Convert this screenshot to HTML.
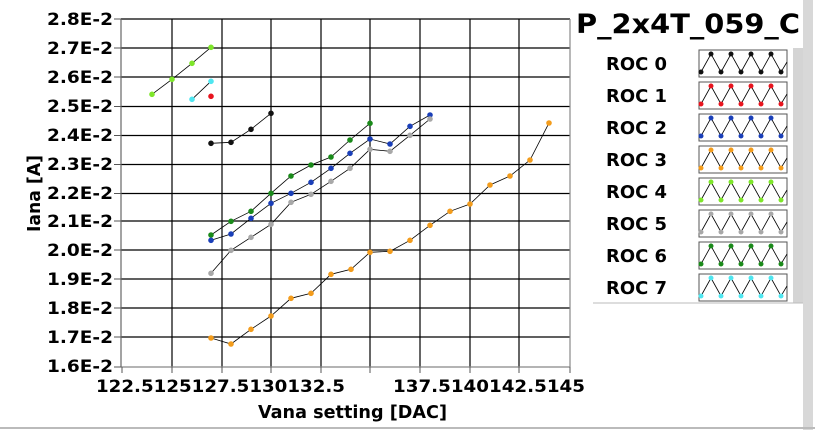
<!DOCTYPE html>
<html><head><style>
body{margin:0;background:#fff;}
svg{display:block;font-family:"DejaVu Sans","Liberation Sans",sans-serif;font-weight:bold;}
</style></head><body>
<svg width="815" height="430" viewBox="0 0 815 430" xmlns="http://www.w3.org/2000/svg">
<rect width="815" height="430" fill="#fff"/>
<g stroke="#000" stroke-width="1.2">
<line x1="121" y1="48" x2="570" y2="48"/><line x1="121" y1="77" x2="570" y2="77"/>
<line x1="121" y1="106.5" x2="570" y2="106.5"/><line x1="121" y1="135.5" x2="570" y2="135.5"/>
<line x1="121" y1="164.5" x2="570" y2="164.5"/><line x1="121" y1="193.5" x2="570" y2="193.5"/>
<line x1="121" y1="221" x2="570" y2="221"/><line x1="121" y1="250" x2="570" y2="250"/>
<line x1="121" y1="279" x2="570" y2="279"/><line x1="121" y1="308" x2="570" y2="308"/>
<line x1="121" y1="337" x2="570" y2="337"/>
<line x1="172" y1="19" x2="172" y2="367"/><line x1="222" y1="19" x2="222" y2="367"/>
<line x1="271" y1="19" x2="271" y2="367"/><line x1="321" y1="19" x2="321" y2="367"/>
<line x1="370" y1="19" x2="370" y2="367"/><line x1="420" y1="19" x2="420" y2="367"/>
<line x1="470" y1="19" x2="470" y2="367"/><line x1="519" y1="19" x2="519" y2="367"/>
<line x1="121" y1="19" x2="570" y2="19"/>
</g>
<line x1="570" y1="19" x2="570" y2="367" stroke="#888" stroke-width="1.2"/>
<line x1="121" y1="367" x2="570" y2="367" stroke="#888" stroke-width="1.2"/>
<line x1="121" y1="19" x2="121" y2="367" stroke="#666" stroke-width="1.2"/>
<g stroke="#555" stroke-width="1">
<line x1="114" y1="19" x2="121" y2="19"/><line x1="114" y1="48" x2="121" y2="48"/><line x1="114" y1="77" x2="121" y2="77"/><line x1="114" y1="106.5" x2="121" y2="106.5"/><line x1="114" y1="135.5" x2="121" y2="135.5"/><line x1="114" y1="164.5" x2="121" y2="164.5"/><line x1="114" y1="193.5" x2="121" y2="193.5"/><line x1="114" y1="221" x2="121" y2="221"/><line x1="114" y1="250" x2="121" y2="250"/><line x1="114" y1="279" x2="121" y2="279"/><line x1="114" y1="308" x2="121" y2="308"/><line x1="114" y1="337" x2="121" y2="337"/><line x1="114" y1="367" x2="121" y2="367"/>
<line x1="122" y1="367" x2="122" y2="373"/><line x1="172" y1="367" x2="172" y2="373"/><line x1="222" y1="367" x2="222" y2="373"/><line x1="271" y1="367" x2="271" y2="373"/><line x1="321" y1="367" x2="321" y2="373"/><line x1="370" y1="367" x2="370" y2="373"/><line x1="420" y1="367" x2="420" y2="373"/><line x1="470" y1="367" x2="470" y2="373"/><line x1="519" y1="367" x2="519" y2="373"/><line x1="570" y1="367" x2="570" y2="373"/>
</g>
<g font-size="17">
<text x="47" y="25" textLength="66" lengthAdjust="spacingAndGlyphs">2.8E-2</text><text x="47" y="54" textLength="66" lengthAdjust="spacingAndGlyphs">2.7E-2</text><text x="47" y="83" textLength="66" lengthAdjust="spacingAndGlyphs">2.6E-2</text><text x="47" y="112" textLength="66" lengthAdjust="spacingAndGlyphs">2.5E-2</text><text x="47" y="141" textLength="66" lengthAdjust="spacingAndGlyphs">2.4E-2</text><text x="47" y="170" textLength="66" lengthAdjust="spacingAndGlyphs">2.3E-2</text><text x="47" y="199" textLength="66" lengthAdjust="spacingAndGlyphs">2.2E-2</text><text x="47" y="227" textLength="66" lengthAdjust="spacingAndGlyphs">2.1E-2</text><text x="47" y="256" textLength="66" lengthAdjust="spacingAndGlyphs">2.0E-2</text><text x="47" y="285" textLength="66" lengthAdjust="spacingAndGlyphs">1.9E-2</text><text x="47" y="314" textLength="66" lengthAdjust="spacingAndGlyphs">1.8E-2</text><text x="47" y="343" textLength="66" lengthAdjust="spacingAndGlyphs">1.7E-2</text><text x="47" y="372" textLength="66" lengthAdjust="spacingAndGlyphs">1.6E-2</text>
</g>
<g font-size="17">
<text x="96" y="392" textLength="249" lengthAdjust="spacingAndGlyphs">122.5125127.5130132.5</text>
<text x="393" y="392" textLength="192" lengthAdjust="spacingAndGlyphs">137.5140142.5145</text>
<text x="258" y="418" textLength="189" lengthAdjust="spacingAndGlyphs" font-size="18">Vana setting [DAC]</text>
<text transform="translate(40,232) rotate(-90)" textLength="77" lengthAdjust="spacingAndGlyphs" font-size="18">Iana [A]</text>
</g>
<g fill="none" stroke="#000" stroke-width="0.8">
<polyline points="211,338 231,344 251,329.3 271,316 291,298.3 311,293.3 331,274.3 351,269.3 370,252.3 390,251.3 410,240.3 430,225.3 450,211.3 470,204 490,185 510,176 530,160 549,123"/>
<polyline points="211,235 231,221.3 251,211.3 271,193.3 291,176 311,165 331,157 350,140 370,123.3"/>
<polyline points="211,240.3 231,234 251,218.3 271,203.3 291,193.3 311,182.3 331,168.3 350,153.3 370,139 390,144 410,126.3 430,115"/>
<polyline points="211,273.3 231,250.3 251,237.3 271,224.3 291,202.3 311,194.3 331,181.3 350,168.3 370,149.3 390,151.3 410,135.3 430,119"/>
<polyline points="211,143.3 231,142.3 251,129.3 271,113.3"/>
<polyline points="152,94.3 172,79.3 192,63.3 211,47.3"/>
<polyline points="192,99.3 211,81.3"/>
</g>
<g fill="#f39c1c">
<circle cx="211" cy="338" r="2.8"/><circle cx="231" cy="344" r="2.8"/><circle cx="251" cy="329.3" r="2.8"/><circle cx="271" cy="316" r="2.8"/><circle cx="291" cy="298.3" r="2.8"/><circle cx="311" cy="293.3" r="2.8"/><circle cx="331" cy="274.3" r="2.8"/><circle cx="351" cy="269.3" r="2.8"/><circle cx="370" cy="252.3" r="2.8"/><circle cx="390" cy="251.3" r="2.8"/><circle cx="410" cy="240.3" r="2.8"/><circle cx="430" cy="225.3" r="2.8"/><circle cx="450" cy="211.3" r="2.8"/><circle cx="470" cy="204" r="2.8"/><circle cx="490" cy="185" r="2.8"/><circle cx="510" cy="176" r="2.8"/><circle cx="530" cy="160" r="2.8"/><circle cx="549" cy="123" r="2.8"/>
</g>
<g fill="#1a8a1a">
<circle cx="211" cy="235" r="2.8"/><circle cx="231" cy="221.3" r="2.8"/><circle cx="251" cy="211.3" r="2.8"/><circle cx="271" cy="193.3" r="2.8"/><circle cx="291" cy="176" r="2.8"/><circle cx="311" cy="165" r="2.8"/><circle cx="331" cy="157" r="2.8"/><circle cx="350" cy="140" r="2.8"/><circle cx="370" cy="123.3" r="2.8"/>
</g>
<g fill="#1a3fb8">
<circle cx="211" cy="240.3" r="2.8"/><circle cx="231" cy="234" r="2.8"/><circle cx="251" cy="218.3" r="2.8"/><circle cx="271" cy="203.3" r="2.8"/><circle cx="291" cy="193.3" r="2.8"/><circle cx="311" cy="182.3" r="2.8"/><circle cx="331" cy="168.3" r="2.8"/><circle cx="350" cy="153.3" r="2.8"/><circle cx="370" cy="139" r="2.8"/><circle cx="390" cy="144" r="2.8"/><circle cx="410" cy="126.3" r="2.8"/><circle cx="430" cy="115" r="2.8"/>
</g>
<g fill="#a8a8a8">
<circle cx="211" cy="273.3" r="2.8"/><circle cx="231" cy="250.3" r="2.8"/><circle cx="251" cy="237.3" r="2.8"/><circle cx="271" cy="224.3" r="2.8"/><circle cx="291" cy="202.3" r="2.8"/><circle cx="311" cy="194.3" r="2.8"/><circle cx="331" cy="181.3" r="2.8"/><circle cx="350" cy="168.3" r="2.8"/><circle cx="370" cy="149.3" r="2.8"/><circle cx="390" cy="151.3" r="2.8"/><circle cx="410" cy="135.3" r="2.8"/><circle cx="430" cy="119" r="2.8"/>
</g>
<g fill="#111">
<circle cx="211" cy="143.3" r="2.8"/><circle cx="231" cy="142.3" r="2.8"/><circle cx="251" cy="129.3" r="2.8"/><circle cx="271" cy="113.3" r="2.8"/>
</g>
<g fill="#7ee62a">
<circle cx="152" cy="94.3" r="2.8"/><circle cx="172" cy="79.3" r="2.8"/><circle cx="192" cy="63.3" r="2.8"/><circle cx="211" cy="47.3" r="2.8"/>
</g>
<g fill="#4fe6f0"><circle cx="192" cy="99.3" r="2.8"/><circle cx="211" cy="81.3" r="2.8"/></g>
<circle cx="211" cy="96.3" r="2.8" fill="#e8141e"/>
<text x="576" y="33" textLength="224" lengthAdjust="spacingAndGlyphs" font-size="27">P_2x4T_059_C</text>
<rect x="793" y="48" width="10" height="255" fill="#d4d4d4"/>
<line x1="593" y1="303" x2="803" y2="303" stroke="#bbb"/>
<rect x="803" y="0" width="10" height="430" fill="#d8d8d8"/>
<line x1="0" y1="428" x2="815" y2="428" stroke="#bbb" stroke-width="2"/>
<defs>
<g id="zz"><rect x="0" y="0" width="88" height="27" fill="#fff" stroke="#555" stroke-width="1"/>
<polyline points="2,22 12,4 22,22 32,4 42,22 52,4 62,22 72,4 82,22 88,12" fill="none" stroke="#000" stroke-width="0.8"/></g>
</defs>
<g font-size="18">
<text x="606" y="70" textLength="61" lengthAdjust="spacingAndGlyphs">ROC 0</text><text x="606" y="102" textLength="61" lengthAdjust="spacingAndGlyphs">ROC 1</text><text x="606" y="134" textLength="61" lengthAdjust="spacingAndGlyphs">ROC 2</text><text x="606" y="166" textLength="61" lengthAdjust="spacingAndGlyphs">ROC 3</text><text x="606" y="198" textLength="61" lengthAdjust="spacingAndGlyphs">ROC 4</text><text x="606" y="230" textLength="61" lengthAdjust="spacingAndGlyphs">ROC 5</text><text x="606" y="262" textLength="61" lengthAdjust="spacingAndGlyphs">ROC 6</text><text x="606" y="294" textLength="61" lengthAdjust="spacingAndGlyphs">ROC 7</text>
</g>
<g transform="translate(699,50)"><use href="#zz"/><g fill="#111"><circle cx="12" cy="4" r="2.5"/><circle cx="32" cy="4" r="2.5"/><circle cx="52" cy="4" r="2.5"/><circle cx="72" cy="4" r="2.5"/><circle cx="2" cy="22" r="2.5"/><circle cx="22" cy="22" r="2.5"/><circle cx="42" cy="22" r="2.5"/><circle cx="62" cy="22" r="2.5"/><circle cx="82" cy="22" r="2.5"/></g></g>
<g transform="translate(699,82)"><use href="#zz"/><g fill="#e8141e"><circle cx="12" cy="4" r="2.5"/><circle cx="32" cy="4" r="2.5"/><circle cx="52" cy="4" r="2.5"/><circle cx="72" cy="4" r="2.5"/><circle cx="2" cy="22" r="2.5"/><circle cx="22" cy="22" r="2.5"/><circle cx="42" cy="22" r="2.5"/><circle cx="62" cy="22" r="2.5"/><circle cx="82" cy="22" r="2.5"/></g></g>
<g transform="translate(699,114)"><use href="#zz"/><g fill="#1a3fb8"><circle cx="12" cy="4" r="2.5"/><circle cx="32" cy="4" r="2.5"/><circle cx="52" cy="4" r="2.5"/><circle cx="72" cy="4" r="2.5"/><circle cx="2" cy="22" r="2.5"/><circle cx="22" cy="22" r="2.5"/><circle cx="42" cy="22" r="2.5"/><circle cx="62" cy="22" r="2.5"/><circle cx="82" cy="22" r="2.5"/></g></g>
<g transform="translate(699,146)"><use href="#zz"/><g fill="#f39c1c"><circle cx="12" cy="4" r="2.5"/><circle cx="32" cy="4" r="2.5"/><circle cx="52" cy="4" r="2.5"/><circle cx="72" cy="4" r="2.5"/><circle cx="2" cy="22" r="2.5"/><circle cx="22" cy="22" r="2.5"/><circle cx="42" cy="22" r="2.5"/><circle cx="62" cy="22" r="2.5"/><circle cx="82" cy="22" r="2.5"/></g></g>
<g transform="translate(699,178)"><use href="#zz"/><g fill="#7ee62a"><circle cx="12" cy="4" r="2.5"/><circle cx="32" cy="4" r="2.5"/><circle cx="52" cy="4" r="2.5"/><circle cx="72" cy="4" r="2.5"/><circle cx="2" cy="22" r="2.5"/><circle cx="22" cy="22" r="2.5"/><circle cx="42" cy="22" r="2.5"/><circle cx="62" cy="22" r="2.5"/><circle cx="82" cy="22" r="2.5"/></g></g>
<g transform="translate(699,210)"><use href="#zz"/><g fill="#a8a8a8"><circle cx="12" cy="4" r="2.5"/><circle cx="32" cy="4" r="2.5"/><circle cx="52" cy="4" r="2.5"/><circle cx="72" cy="4" r="2.5"/><circle cx="2" cy="22" r="2.5"/><circle cx="22" cy="22" r="2.5"/><circle cx="42" cy="22" r="2.5"/><circle cx="62" cy="22" r="2.5"/><circle cx="82" cy="22" r="2.5"/></g></g>
<g transform="translate(699,242)"><use href="#zz"/><g fill="#1a8a1a"><circle cx="12" cy="4" r="2.5"/><circle cx="32" cy="4" r="2.5"/><circle cx="52" cy="4" r="2.5"/><circle cx="72" cy="4" r="2.5"/><circle cx="2" cy="22" r="2.5"/><circle cx="22" cy="22" r="2.5"/><circle cx="42" cy="22" r="2.5"/><circle cx="62" cy="22" r="2.5"/><circle cx="82" cy="22" r="2.5"/></g></g>
<g transform="translate(699,274)"><use href="#zz"/><g fill="#4fe6f0"><circle cx="12" cy="4" r="2.5"/><circle cx="32" cy="4" r="2.5"/><circle cx="52" cy="4" r="2.5"/><circle cx="72" cy="4" r="2.5"/><circle cx="2" cy="22" r="2.5"/><circle cx="22" cy="22" r="2.5"/><circle cx="42" cy="22" r="2.5"/><circle cx="62" cy="22" r="2.5"/><circle cx="82" cy="22" r="2.5"/></g></g>
</svg>
</body></html>
